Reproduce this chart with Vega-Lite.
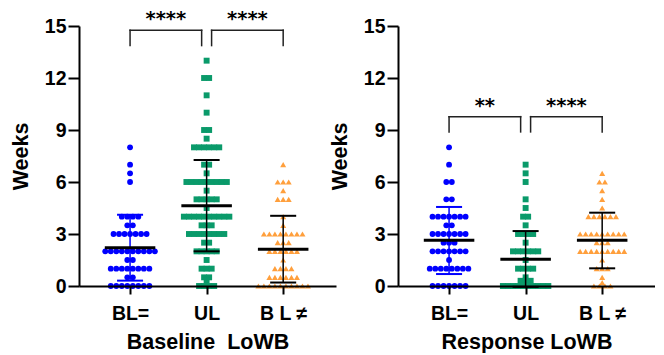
{
  "$schema": "https://vega.github.io/schema/vega-lite/v6.json",
  "padding": {"left": 10, "top": 9, "right": 0, "bottom": 0},
  "spacing": -7,
  "config": {
    "view": {"stroke": null},
    "font": "Liberation Sans",
    "axis": {
      "grid": false, "domainColor": "black", "domainWidth": 2, "tickColor": "black", "tickWidth": 2,
      "labelFont": "Liberation Sans", "labelFontWeight": "bold", "labelFontSize": 19.5, "labelColor": "black",
      "titleFont": "Liberation Sans", "titleFontWeight": "bold", "titleFontSize": 21.5, "titleColor": "black"
    }
  },
  "datasets": {
    "pts": [
      {"p":"B","g":"BL=","w":8},{"p":"B","g":"BL=","w":7},{"p":"B","g":"BL=","w":6.5},{"p":"B","g":"BL=","w":6},
      {"p":"B","g":"BL=","w":4},{"p":"B","g":"BL=","w":4},{"p":"B","g":"BL=","w":4},{"p":"B","g":"BL=","w":4},
      {"p":"B","g":"BL=","w":3.5},{"p":"B","g":"BL=","w":3.5},
      {"p":"B","g":"BL=","w":3},{"p":"B","g":"BL=","w":3},{"p":"B","g":"BL=","w":3},{"p":"B","g":"BL=","w":3},{"p":"B","g":"BL=","w":3},{"p":"B","g":"BL=","w":3},{"p":"B","g":"BL=","w":3},
      {"p":"B","g":"BL=","w":2},{"p":"B","g":"BL=","w":2},{"p":"B","g":"BL=","w":2},{"p":"B","g":"BL=","w":2},{"p":"B","g":"BL=","w":2},{"p":"B","g":"BL=","w":2},{"p":"B","g":"BL=","w":2},{"p":"B","g":"BL=","w":2},{"p":"B","g":"BL=","w":2},{"p":"B","g":"BL=","w":2},
      {"p":"B","g":"BL=","w":1.5},{"p":"B","g":"BL=","w":1.5},
      {"p":"B","g":"BL=","w":1},{"p":"B","g":"BL=","w":1},{"p":"B","g":"BL=","w":1},{"p":"B","g":"BL=","w":1},{"p":"B","g":"BL=","w":1},{"p":"B","g":"BL=","w":1},{"p":"B","g":"BL=","w":1},{"p":"B","g":"BL=","w":1},
      {"p":"B","g":"BL=","w":0.5},{"p":"B","g":"BL=","w":0.5},
      {"p":"B","g":"BL=","w":0},{"p":"B","g":"BL=","w":0},{"p":"B","g":"BL=","w":0},{"p":"B","g":"BL=","w":0},{"p":"B","g":"BL=","w":0},{"p":"B","g":"BL=","w":0},{"p":"B","g":"BL=","w":0},{"p":"B","g":"BL=","w":0},

      {"p":"B","g":"UL","w":13},{"p":"B","g":"UL","w":12},{"p":"B","g":"UL","w":12},{"p":"B","g":"UL","w":11},{"p":"B","g":"UL","w":10},
      {"p":"B","g":"UL","w":9},{"p":"B","g":"UL","w":9},{"p":"B","g":"UL","w":8.5},
      {"p":"B","g":"UL","w":8},{"p":"B","g":"UL","w":8},{"p":"B","g":"UL","w":8},{"p":"B","g":"UL","w":8},{"p":"B","g":"UL","w":8},{"p":"B","g":"UL","w":8},
      {"p":"B","g":"UL","w":7},{"p":"B","g":"UL","w":7},{"p":"B","g":"UL","w":6.5},
      {"p":"B","g":"UL","w":6},{"p":"B","g":"UL","w":6},{"p":"B","g":"UL","w":6},{"p":"B","g":"UL","w":6},{"p":"B","g":"UL","w":6},{"p":"B","g":"UL","w":6},{"p":"B","g":"UL","w":6},{"p":"B","g":"UL","w":6},{"p":"B","g":"UL","w":6},
      {"p":"B","g":"UL","w":5.5},
      {"p":"B","g":"UL","w":5},{"p":"B","g":"UL","w":5},{"p":"B","g":"UL","w":5},{"p":"B","g":"UL","w":5},{"p":"B","g":"UL","w":5},
      {"p":"B","g":"UL","w":4.5},
      {"p":"B","g":"UL","w":4},{"p":"B","g":"UL","w":4},{"p":"B","g":"UL","w":4},{"p":"B","g":"UL","w":4},{"p":"B","g":"UL","w":4},{"p":"B","g":"UL","w":4},{"p":"B","g":"UL","w":4},{"p":"B","g":"UL","w":4},{"p":"B","g":"UL","w":4},{"p":"B","g":"UL","w":4},
      {"p":"B","g":"UL","w":3.5},{"p":"B","g":"UL","w":3.5},{"p":"B","g":"UL","w":3.5},
      {"p":"B","g":"UL","w":3},{"p":"B","g":"UL","w":3},{"p":"B","g":"UL","w":3},{"p":"B","g":"UL","w":3},{"p":"B","g":"UL","w":3},{"p":"B","g":"UL","w":3},{"p":"B","g":"UL","w":3},{"p":"B","g":"UL","w":3},
      {"p":"B","g":"UL","w":2.5},{"p":"B","g":"UL","w":2.5},
      {"p":"B","g":"UL","w":2},{"p":"B","g":"UL","w":2},{"p":"B","g":"UL","w":2},{"p":"B","g":"UL","w":2},{"p":"B","g":"UL","w":2},
      {"p":"B","g":"UL","w":1.5},
      {"p":"B","g":"UL","w":1},{"p":"B","g":"UL","w":1},{"p":"B","g":"UL","w":1},
      {"p":"B","g":"UL","w":0.5},{"p":"B","g":"UL","w":0.5},{"p":"B","g":"UL","w":0.3},
      {"p":"B","g":"UL","w":0},{"p":"B","g":"UL","w":0},{"p":"B","g":"UL","w":0},{"p":"B","g":"UL","w":0},

      {"p":"B","g":"B L ≠","w":7},
      {"p":"B","g":"B L ≠","w":6},{"p":"B","g":"B L ≠","w":6},{"p":"B","g":"B L ≠","w":6},
      {"p":"B","g":"B L ≠","w":5.5},
      {"p":"B","g":"B L ≠","w":5},{"p":"B","g":"B L ≠","w":5},{"p":"B","g":"B L ≠","w":5},
      {"p":"B","g":"B L ≠","w":4},{"p":"B","g":"B L ≠","w":3.5},
      {"p":"B","g":"B L ≠","w":3},{"p":"B","g":"B L ≠","w":3},{"p":"B","g":"B L ≠","w":3},{"p":"B","g":"B L ≠","w":3},{"p":"B","g":"B L ≠","w":3},{"p":"B","g":"B L ≠","w":3},{"p":"B","g":"B L ≠","w":3},{"p":"B","g":"B L ≠","w":3},
      {"p":"B","g":"B L ≠","w":2.5},{"p":"B","g":"B L ≠","w":2.5},{"p":"B","g":"B L ≠","w":2.5},
      {"p":"B","g":"B L ≠","w":2},{"p":"B","g":"B L ≠","w":2},{"p":"B","g":"B L ≠","w":2},{"p":"B","g":"B L ≠","w":2},{"p":"B","g":"B L ≠","w":2},{"p":"B","g":"B L ≠","w":2},
      {"p":"B","g":"B L ≠","w":1.5},
      {"p":"B","g":"B L ≠","w":1},{"p":"B","g":"B L ≠","w":1},{"p":"B","g":"B L ≠","w":1},{"p":"B","g":"B L ≠","w":1},
      {"p":"B","g":"B L ≠","w":0.5},{"p":"B","g":"B L ≠","w":0.5},{"p":"B","g":"B L ≠","w":0.5},{"p":"B","g":"B L ≠","w":0.5},{"p":"B","g":"B L ≠","w":0.5},{"p":"B","g":"B L ≠","w":0.5},
      {"p":"B","g":"B L ≠","w":0},{"p":"B","g":"B L ≠","w":0},{"p":"B","g":"B L ≠","w":0},{"p":"B","g":"B L ≠","w":0},{"p":"B","g":"B L ≠","w":0},{"p":"B","g":"B L ≠","w":0},{"p":"B","g":"B L ≠","w":0},{"p":"B","g":"B L ≠","w":0},{"p":"B","g":"B L ≠","w":0},{"p":"B","g":"B L ≠","w":0},

      {"p":"R","g":"BL=","w":8},{"p":"R","g":"BL=","w":7},{"p":"R","g":"BL=","w":6},{"p":"R","g":"BL=","w":6},{"p":"R","g":"BL=","w":5},{"p":"R","g":"BL=","w":5},
      {"p":"R","g":"BL=","w":4},{"p":"R","g":"BL=","w":4},{"p":"R","g":"BL=","w":4},{"p":"R","g":"BL=","w":4},{"p":"R","g":"BL=","w":4},{"p":"R","g":"BL=","w":4},{"p":"R","g":"BL=","w":4},
      {"p":"R","g":"BL=","w":3.5},{"p":"R","g":"BL=","w":3.5},
      {"p":"R","g":"BL=","w":3},{"p":"R","g":"BL=","w":3},{"p":"R","g":"BL=","w":3},{"p":"R","g":"BL=","w":3},{"p":"R","g":"BL=","w":3},{"p":"R","g":"BL=","w":3},{"p":"R","g":"BL=","w":3},
      {"p":"R","g":"BL=","w":2.5},{"p":"R","g":"BL=","w":2.5},{"p":"R","g":"BL=","w":2.5},
      {"p":"R","g":"BL=","w":2},{"p":"R","g":"BL=","w":2},{"p":"R","g":"BL=","w":2},{"p":"R","g":"BL=","w":2},{"p":"R","g":"BL=","w":2},{"p":"R","g":"BL=","w":2},{"p":"R","g":"BL=","w":2},
      {"p":"R","g":"BL=","w":1.5},
      {"p":"R","g":"BL=","w":1},{"p":"R","g":"BL=","w":1},{"p":"R","g":"BL=","w":1},{"p":"R","g":"BL=","w":1},{"p":"R","g":"BL=","w":1},{"p":"R","g":"BL=","w":1},{"p":"R","g":"BL=","w":1},{"p":"R","g":"BL=","w":1},
      {"p":"R","g":"BL=","w":0},{"p":"R","g":"BL=","w":0},{"p":"R","g":"BL=","w":0},{"p":"R","g":"BL=","w":0},{"p":"R","g":"BL=","w":0},{"p":"R","g":"BL=","w":0},{"p":"R","g":"BL=","w":0},

      {"p":"R","g":"UL","w":7},{"p":"R","g":"UL","w":6.5},{"p":"R","g":"UL","w":6},{"p":"R","g":"UL","w":5},{"p":"R","g":"UL","w":4.5},
      {"p":"R","g":"UL","w":4},{"p":"R","g":"UL","w":4},{"p":"R","g":"UL","w":3.5},
      {"p":"R","g":"UL","w":3},{"p":"R","g":"UL","w":3},{"p":"R","g":"UL","w":3},{"p":"R","g":"UL","w":3},
      {"p":"R","g":"UL","w":2.5},
      {"p":"R","g":"UL","w":2},{"p":"R","g":"UL","w":2},{"p":"R","g":"UL","w":2},{"p":"R","g":"UL","w":2},{"p":"R","g":"UL","w":2},{"p":"R","g":"UL","w":2},
      {"p":"R","g":"UL","w":1.5},
      {"p":"R","g":"UL","w":1},{"p":"R","g":"UL","w":1},{"p":"R","g":"UL","w":1},{"p":"R","g":"UL","w":1},
      {"p":"R","g":"UL","w":0.5},{"p":"R","g":"UL","w":0.3},{"p":"R","g":"UL","w":0.3},{"p":"R","g":"UL","w":0.3},
      {"p":"R","g":"UL","w":0},{"p":"R","g":"UL","w":0},{"p":"R","g":"UL","w":0},{"p":"R","g":"UL","w":0},{"p":"R","g":"UL","w":0},{"p":"R","g":"UL","w":0},{"p":"R","g":"UL","w":0},{"p":"R","g":"UL","w":0},{"p":"R","g":"UL","w":0},{"p":"R","g":"UL","w":0},

      {"p":"R","g":"B L ≠","w":6.5},{"p":"R","g":"B L ≠","w":6},{"p":"R","g":"B L ≠","w":6},{"p":"R","g":"B L ≠","w":5.5},{"p":"R","g":"B L ≠","w":5},{"p":"R","g":"B L ≠","w":4.5},
      {"p":"R","g":"B L ≠","w":4},{"p":"R","g":"B L ≠","w":4},{"p":"R","g":"B L ≠","w":4},{"p":"R","g":"B L ≠","w":4},{"p":"R","g":"B L ≠","w":4},{"p":"R","g":"B L ≠","w":4},
      {"p":"R","g":"B L ≠","w":3},{"p":"R","g":"B L ≠","w":3},{"p":"R","g":"B L ≠","w":3},{"p":"R","g":"B L ≠","w":3},{"p":"R","g":"B L ≠","w":3},{"p":"R","g":"B L ≠","w":3},{"p":"R","g":"B L ≠","w":3},{"p":"R","g":"B L ≠","w":3},{"p":"R","g":"B L ≠","w":3},
      {"p":"R","g":"B L ≠","w":2.5},{"p":"R","g":"B L ≠","w":2.5},{"p":"R","g":"B L ≠","w":2.5},
      {"p":"R","g":"B L ≠","w":2},{"p":"R","g":"B L ≠","w":2},{"p":"R","g":"B L ≠","w":2},{"p":"R","g":"B L ≠","w":2},{"p":"R","g":"B L ≠","w":2},{"p":"R","g":"B L ≠","w":2},{"p":"R","g":"B L ≠","w":2},{"p":"R","g":"B L ≠","w":2},{"p":"R","g":"B L ≠","w":2},
      {"p":"R","g":"B L ≠","w":1.5},
      {"p":"R","g":"B L ≠","w":1},{"p":"R","g":"B L ≠","w":1},{"p":"R","g":"B L ≠","w":1},
      {"p":"R","g":"B L ≠","w":0.5},{"p":"R","g":"B L ≠","w":0.2},
      {"p":"R","g":"B L ≠","w":0},{"p":"R","g":"B L ≠","w":0},{"p":"R","g":"B L ≠","w":0},{"p":"R","g":"B L ≠","w":0}
    ],
    "stats": [
      {"p":"B","g":"BL=","m":2.2,"lo":0.31,"hi":4.11},
      {"p":"B","g":"UL","m":4.63,"lo":2.0,"hi":7.27},
      {"p":"B","g":"B L ≠","m":2.12,"lo":0.2,"hi":4.05},
      {"p":"R","g":"BL=","m":2.64,"lo":0.69,"hi":4.56},
      {"p":"R","g":"UL","m":1.54,"lo":-0.05,"hi":3.17},
      {"p":"R","g":"B L ≠","m":2.64,"lo":1.02,"hi":4.23}
    ],
    "sig": [
      {"p":"B","a":"BL=","b":"UL","t":"****","lvl":14.75},
      {"p":"B","a":"UL","b":"B L ≠","t":"****","lvl":14.75},
      {"p":"R","a":"BL=","b":"UL","t":"**","lvl":9.77},
      {"p":"R","a":"UL","b":"B L ≠","t":"****","lvl":9.77}
    ]
  },
  "hconcat": [
    {
      "width": 257, "height": 260,
      "layer": [
        {
          "data": {"name": "pts"},
          "transform": [
            {"filter": "datum.p === 'B'"},
            {"window": [{"op": "row_number", "as": "k"}], "groupby": ["g", "w"]},
            {"joinaggregate": [{"op": "count", "as": "n"}], "groupby": ["g", "w"]},
            {"calculate": "indexof(['BL=','UL','B L ≠'], datum.g) + 1 + (datum.k - (datum.n + 1) / 2) * (datum.g === 'UL' ? 0.066 : 0.072)", "as": "xx"}
          ],
          "mark": {"type": "point", "filled": true, "opacity": 1, "strokeWidth": 0},
          "encoding": {
            "x": {"field": "xx", "type": "quantitative", "scale": {"domain": [0.333, 3.69], "nice": false, "zero": false},
              "axis": {"values": [1, 2, 3], "labelExpr": "datum.value === 1 ? 'BL=' : datum.value === 2 ? 'UL' : 'B L ≠'", "title": "Baseline\u00a0 LoWB", "tickSize": 8, "labelPadding": 10, "titlePadding": 9, "zindex": 1, "labelFlush": false, "labelOverlap": false}},
            "y": {"field": "w", "type": "quantitative", "scale": {"domain": [0, 15], "nice": false},
              "axis": {"values": [0, 3, 6, 9, 12, 15], "title": "Weeks", "tickSize": 11, "labelPadding": 2, "titlePadding": 12, "zindex": 1}},
            "color": {"field": "g", "type": "nominal", "scale": {"domain": ["BL=", "UL", "B L ≠"], "range": ["#0000ff", "#0a9a6a", "#ff9f3c"]}, "legend": null},
            "shape": {"field": "g", "type": "nominal", "scale": {"domain": ["BL=", "UL", "B L ≠"], "range": ["circle", "square", "triangle-up"]}, "legend": null},
            "size": {"field": "g", "type": "nominal", "scale": {"domain": ["BL=", "UL", "B L ≠"], "range": [34, 36, 46]}, "legend": null}
          }
        },
        {
          "data": {"name": "stats"},
          "transform": [
            {"filter": "datum.p === 'B'"},
            {"calculate": "indexof(['BL=','UL','B L ≠'], datum.g) + 1", "as": "i"},
            {"calculate": "datum.i - 0.17", "as": "c1"},
            {"calculate": "datum.i + 0.17", "as": "c2"},
            {"calculate": "datum.i - 0.33", "as": "m1"},
            {"calculate": "datum.i + 0.33", "as": "m2"}
          ],
          "layer": [
            {"mark": {"type": "rule", "strokeWidth": 1.5},
             "encoding": {"x": {"field": "i", "type": "quantitative"}, "y": {"field": "lo", "type": "quantitative"}, "y2": {"field": "hi"},
               "color": {"condition": {"test": "datum.g === 'BL='", "value": "#0000ff"}, "value": "black"}}},
            {"mark": {"type": "rule", "strokeWidth": 2},
             "encoding": {"x": {"field": "c1", "type": "quantitative"}, "x2": {"field": "c2"}, "y": {"field": "hi", "type": "quantitative"},
               "color": {"condition": {"test": "datum.g === 'BL='", "value": "#0000ff"}, "value": "black"}}},
            {"mark": {"type": "rule", "strokeWidth": 2},
             "encoding": {"x": {"field": "c1", "type": "quantitative"}, "x2": {"field": "c2"}, "y": {"field": "lo", "type": "quantitative"},
               "color": {"condition": {"test": "datum.g === 'BL='", "value": "#0000ff"}, "value": "black"}}},
            {"mark": {"type": "rule", "strokeWidth": 3, "color": "black"},
             "encoding": {"x": {"field": "m1", "type": "quantitative"}, "x2": {"field": "m2"}, "y": {"field": "m", "type": "quantitative"}}}
          ]
        },
        {
          "data": {"name": "sig"},
          "transform": [
            {"filter": "datum.p === 'B'"},
            {"calculate": "indexof(['BL=','UL','B L ≠'], datum.a) + 1 + (datum.a === 'UL' ? 0.065 : 0)", "as": "xa"},
            {"calculate": "indexof(['BL=','UL','B L ≠'], datum.b) + 1 - (datum.b === 'UL' ? 0.065 : 0)", "as": "xb"},
            {"calculate": "datum.lvl - 0.88", "as": "l2"},
            {"calculate": "(datum.xa + datum.xb) / 2", "as": "xm"}
          ],
          "layer": [
            {"mark": {"type": "rule", "strokeWidth": 1.5, "color": "#222222", "strokeCap": "square"},
             "encoding": {"x": {"field": "xa", "type": "quantitative"}, "x2": {"field": "xb"}, "y": {"field": "lvl", "type": "quantitative"}}},
            {"mark": {"type": "rule", "strokeWidth": 1.5, "color": "#222222", "strokeCap": "square"},
             "encoding": {"x": {"field": "xa", "type": "quantitative"}, "y": {"field": "l2", "type": "quantitative"}, "y2": {"field": "lvl"}}},
            {"mark": {"type": "rule", "strokeWidth": 1.5, "color": "#222222", "strokeCap": "square"},
             "encoding": {"x": {"field": "xb", "type": "quantitative"}, "y": {"field": "l2", "type": "quantitative"}, "y2": {"field": "lvl"}}},
            {"mark": {"type": "text", "font": "DejaVu Sans", "fontWeight": "bold", "fontSize": 19.5, "dy": -5, "baseline": "alphabetic", "color": "black"},
             "encoding": {"x": {"field": "xm", "type": "quantitative"}, "y": {"field": "lvl", "type": "quantitative"}, "text": {"field": "t"}}}
          ]
        }
      ]
    },
    {
      "width": 257, "height": 260,
      "layer": [
        {
          "data": {"name": "pts"},
          "transform": [
            {"filter": "datum.p === 'R'"},
            {"window": [{"op": "row_number", "as": "k"}], "groupby": ["g", "w"]},
            {"joinaggregate": [{"op": "count", "as": "n"}], "groupby": ["g", "w"]},
            {"calculate": "indexof(['BL=','UL','B L ≠'], datum.g) + 1 + (datum.k - (datum.n + 1) / 2) * (datum.g === 'UL' ? 0.066 : 0.072)", "as": "xx"}
          ],
          "mark": {"type": "point", "filled": true, "opacity": 1, "strokeWidth": 0},
          "encoding": {
            "x": {"field": "xx", "type": "quantitative", "scale": {"domain": [0.333, 3.69], "nice": false, "zero": false},
              "axis": {"values": [1, 2, 3], "labelExpr": "datum.value === 1 ? 'BL=' : datum.value === 2 ? 'UL' : 'B L ≠'", "title": "Response LoWB", "tickSize": 8, "labelPadding": 10, "titlePadding": 9, "zindex": 1, "labelFlush": false, "labelOverlap": false}},
            "y": {"field": "w", "type": "quantitative", "scale": {"domain": [0, 15], "nice": false},
              "axis": {"values": [0, 3, 6, 9, 12, 15], "title": "Weeks", "tickSize": 11, "labelPadding": 2, "titlePadding": 12, "zindex": 1}},
            "color": {"field": "g", "type": "nominal", "scale": {"domain": ["BL=", "UL", "B L ≠"], "range": ["#0000ff", "#0a9a6a", "#ff9f3c"]}, "legend": null},
            "shape": {"field": "g", "type": "nominal", "scale": {"domain": ["BL=", "UL", "B L ≠"], "range": ["circle", "square", "triangle-up"]}, "legend": null},
            "size": {"field": "g", "type": "nominal", "scale": {"domain": ["BL=", "UL", "B L ≠"], "range": [34, 36, 46]}, "legend": null}
          }
        },
        {
          "data": {"name": "stats"},
          "transform": [
            {"filter": "datum.p === 'R'"},
            {"calculate": "indexof(['BL=','UL','B L ≠'], datum.g) + 1", "as": "i"},
            {"calculate": "datum.i - 0.17", "as": "c1"},
            {"calculate": "datum.i + 0.17", "as": "c2"},
            {"calculate": "datum.i - 0.33", "as": "m1"},
            {"calculate": "datum.i + 0.33", "as": "m2"}
          ],
          "layer": [
            {"mark": {"type": "rule", "strokeWidth": 1.5},
             "encoding": {"x": {"field": "i", "type": "quantitative"}, "y": {"field": "lo", "type": "quantitative"}, "y2": {"field": "hi"},
               "color": {"condition": {"test": "datum.g === 'BL='", "value": "#0000ff"}, "value": "black"}}},
            {"mark": {"type": "rule", "strokeWidth": 2},
             "encoding": {"x": {"field": "c1", "type": "quantitative"}, "x2": {"field": "c2"}, "y": {"field": "hi", "type": "quantitative"},
               "color": {"condition": {"test": "datum.g === 'BL='", "value": "#0000ff"}, "value": "black"}}},
            {"mark": {"type": "rule", "strokeWidth": 2},
             "encoding": {"x": {"field": "c1", "type": "quantitative"}, "x2": {"field": "c2"}, "y": {"field": "lo", "type": "quantitative"},
               "color": {"condition": {"test": "datum.g === 'BL='", "value": "#0000ff"}, "value": "black"}}},
            {"mark": {"type": "rule", "strokeWidth": 3, "color": "black"},
             "encoding": {"x": {"field": "m1", "type": "quantitative"}, "x2": {"field": "m2"}, "y": {"field": "m", "type": "quantitative"}}}
          ]
        },
        {
          "data": {"name": "sig"},
          "transform": [
            {"filter": "datum.p === 'R'"},
            {"calculate": "indexof(['BL=','UL','B L ≠'], datum.a) + 1 + (datum.a === 'UL' ? 0.065 : 0)", "as": "xa"},
            {"calculate": "indexof(['BL=','UL','B L ≠'], datum.b) + 1 - (datum.b === 'UL' ? 0.065 : 0)", "as": "xb"},
            {"calculate": "datum.lvl - 0.88", "as": "l2"},
            {"calculate": "(datum.xa + datum.xb) / 2", "as": "xm"}
          ],
          "layer": [
            {"mark": {"type": "rule", "strokeWidth": 1.5, "color": "#222222", "strokeCap": "square"},
             "encoding": {"x": {"field": "xa", "type": "quantitative"}, "x2": {"field": "xb"}, "y": {"field": "lvl", "type": "quantitative"}}},
            {"mark": {"type": "rule", "strokeWidth": 1.5, "color": "#222222", "strokeCap": "square"},
             "encoding": {"x": {"field": "xa", "type": "quantitative"}, "y": {"field": "l2", "type": "quantitative"}, "y2": {"field": "lvl"}}},
            {"mark": {"type": "rule", "strokeWidth": 1.5, "color": "#222222", "strokeCap": "square"},
             "encoding": {"x": {"field": "xb", "type": "quantitative"}, "y": {"field": "l2", "type": "quantitative"}, "y2": {"field": "lvl"}}},
            {"mark": {"type": "text", "font": "DejaVu Sans", "fontWeight": "bold", "fontSize": 19.5, "dy": -5, "baseline": "alphabetic", "color": "black"},
             "encoding": {"x": {"field": "xm", "type": "quantitative"}, "y": {"field": "lvl", "type": "quantitative"}, "text": {"field": "t"}}}
          ]
        }
      ]
    }
  ]
}
